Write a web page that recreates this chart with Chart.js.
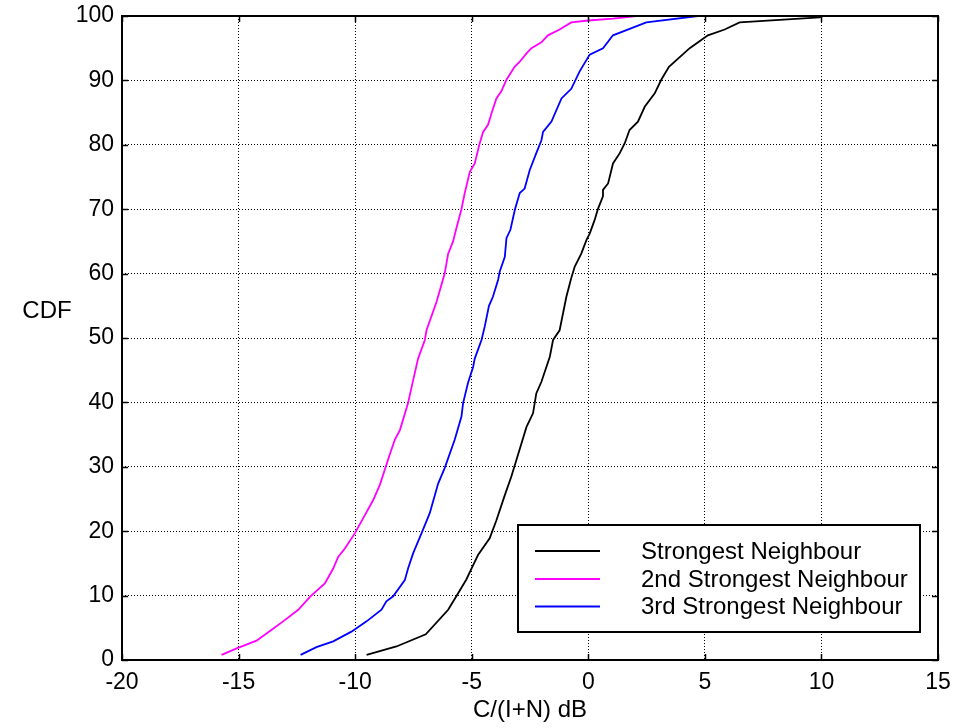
<!DOCTYPE html>
<html>
<head>
<meta charset="utf-8">
<script src="https://cdn.jsdelivr.net/npm/chart.js@4.4.1/dist/chart.umd.min.js"></script>
<style>
html,body{margin:0;padding:0;background:#fff;}
#wrap{width:957px;height:728px;}
</style>
</head>
<body>
<div id="wrap"><canvas id="c" width="957" height="728"></canvas></div>
<script>
// ---- data ----
const seriesNames = ["Strongest Neighbour", "2nd Strongest Neighbour", "3rd Strongest Neighbour"];
const seriesColors = ["#000000", "#ff00ff", "#0000ff"];

const strongestX = [-9.51,-8.23,-6.97,-6.01,-5.66,-5.23,-5.01,-4.73,-4.23,-3.94,-3.58,-3.30,-3.08,-2.65,-2.37,-2.23,-2.01,-1.65,-1.51,-1.23,-0.94,-0.73,-0.58,-0.30,-0.08,0.06,0.27,0.42,0.63,0.63,0.85,1.06,1.35,1.56,1.77,2.13,2.42,2.85,3.13,3.46,4.35,5.13,5.85,6.49,9.92,10.1];
const strongestY = [0.8,2.1,4.0,7.8,9.9,12.5,14.2,16.3,18.9,21.7,25.6,28.5,31.1,36.2,38.3,41.4,43.2,47.1,49.7,51.2,56.4,59.3,61.1,63.1,65.2,66.2,68.3,70.1,72.0,73.0,74.0,77.1,78.7,80.2,82.3,83.6,85.9,88.0,90.1,92.1,95.0,97.0,97.9,99.0,99.8,100];

const second_X = [-15.73,-15.08,-14.23,-13.58,-13.09,-12.44,-11.94,-11.30,-10.94,-10.73,-10.44,-10.01,-9.66,-9.23,-8.94,-8.59,-8.30,-8.08,-7.73,-7.54,-7.30,-7.01,-6.94,-6.51,-6.16,-6.01,-5.80,-5.66,-5.44,-5.30,-5.08,-4.87,-4.66,-4.51,-4.30,-4.15,-3.94,-3.73,-3.51,-3.16,-2.94,-2.65,-2.44,-2.01,-1.73,-1.23,-0.73,0.0,1.06,2.06];
const second_Y = [0.8,1.8,3.0,4.7,6.0,7.8,9.8,11.9,14.2,16.0,17.3,19.7,22.0,24.8,27.2,31.1,34.2,35.7,39.9,43.0,46.8,49.7,51.2,55.6,60.0,63.1,65.0,67.0,70.0,72.5,75.8,77.1,80.2,82.0,83.1,84.9,87.2,88.3,90.1,92.1,92.9,94.2,95.0,95.9,97.0,97.9,99.0,99.3,99.6,100];

const third_X = [-12.34,-11.66,-10.94,-10.16,-9.51,-8.87,-8.66,-8.37,-7.87,-7.73,-7.51,-7.15,-6.80,-6.44,-6.16,-5.73,-5.44,-5.37,-5.16,-4.94,-4.87,-4.58,-4.44,-4.26,-4.09,-3.87,-3.80,-3.58,-3.51,-3.34,-3.15,-2.94,-2.73,-2.51,-2.23,-2.01,-1.94,-1.58,-1.15,-0.73,-0.37,0.06,0.63,1.06,2.49,4.70];
const third_Y = [0.8,2.0,2.9,4.4,6.0,7.8,9.1,9.9,12.4,14.2,16.6,19.7,22.8,27.4,29.8,34.2,37.8,39.9,43.0,45.5,46.8,49.7,51.8,55.0,56.4,59.0,60.3,62.6,65.5,66.8,69.9,72.5,73.2,76.1,78.7,80.7,82.0,83.6,87.2,88.7,91.4,94.0,95.0,97.0,99.0,100];

const xTicks = [-20,-15,-10,-5,0,5,10,15];
const yTicks = [0,10,20,30,40,50,60,70,80,90,100];
const xLabel = "C/(I+N) dB";
const yLabel = "CDF";

// ---- build ----
const FONT = "'Liberation Sans', Arial, Helvetica, sans-serif";
function pts(xs, ys){ return xs.map((x,i)=>({x:x, y:ys[i]})); }
const seriesData = [pts(strongestX,strongestY), pts(second_X,second_Y), pts(third_X,third_Y)];

const frameAndLegend = {
  id: 'frameAndLegend',
  afterDraw(chart){
    const ctx = chart.ctx;
    const a = chart.chartArea;
    const xs = chart.scales.x, ys = chart.scales.y;
    ctx.save();
    // inward tick marks
    ctx.strokeStyle = '#000'; ctx.lineWidth = 1.5; ctx.setLineDash([]);
    const tl = 6;
    xTicks.forEach(v=>{
      const px = Math.round(xs.getPixelForValue(v))+0.5;
      ctx.beginPath(); ctx.moveTo(px, a.bottom); ctx.lineTo(px, a.bottom-tl); ctx.stroke();
      ctx.beginPath(); ctx.moveTo(px, a.top); ctx.lineTo(px, a.top+tl); ctx.stroke();
    });
    yTicks.forEach(v=>{
      const py = Math.round(ys.getPixelForValue(v))+0.5;
      ctx.beginPath(); ctx.moveTo(a.left, py); ctx.lineTo(a.left+tl, py); ctx.stroke();
      ctx.beginPath(); ctx.moveTo(a.right, py); ctx.lineTo(a.right-tl, py); ctx.stroke();
    });
    // frame
    ctx.lineWidth = 2;
    ctx.strokeRect(a.left, a.top, a.right-a.left, a.bottom-a.top);
    // axis labels
    ctx.fillStyle = '#000';
    ctx.font = '24px ' + FONT;
    ctx.textAlign = 'center'; ctx.textBaseline = 'middle';
    ctx.fillText(xLabel, (a.left+a.right)/2, 710);
    ctx.fillText(yLabel, 47, 311);
    // legend
    const lx = 518, ly = 525, lw = 402, lh = 107;
    ctx.fillStyle = '#fff';
    ctx.fillRect(lx, ly, lw, lh);
    ctx.lineWidth = 2; ctx.strokeStyle = '#000';
    ctx.strokeRect(lx, ly, lw, lh);
    const rows = [551, 579, 606.5];
    chart.data.datasets.forEach((ds,i)=>{
      ctx.strokeStyle = ds.borderColor; ctx.lineWidth = 2;
      ctx.beginPath(); ctx.moveTo(535, rows[i]); ctx.lineTo(600, rows[i]); ctx.stroke();
      ctx.fillStyle = '#000'; ctx.textAlign = 'left'; ctx.textBaseline = 'middle';
      ctx.font = '24px ' + FONT;
      ctx.fillText(ds.label, 641, rows[i]+1);
    });
    ctx.restore();
  }
};

new Chart(document.getElementById('c'), {
  type: 'line',
  data: {
    datasets: seriesData.map((d,i)=>({
      label: seriesNames[i],
      data: d,
      borderColor: seriesColors[i],
      backgroundColor: seriesColors[i],
      borderWidth: 1.8,
      pointRadius: 0,
      tension: 0,
      fill: false
    }))
  },
  options: {
    responsive: false,
    devicePixelRatio: 1,
    animation: false,
    layout: { padding: { top: 16, right: 19, bottom: 0, left: 0 } },
    plugins: { legend: { display: false }, tooltip: { enabled: false } },
    scales: {
      x: {
        type: 'linear', min: -20, max: 15,
        afterFit(s){ s.height = 68; },
        afterBuildTicks(s){ s.ticks = xTicks.map(v=>({value:v})); },
        ticks: { color: '#000', font: { family: FONT, size: 23 }, padding: 0, maxRotation: 0 },
        grid: { color: '#000', lineWidth: 1, drawTicks: true, tickLength: 9, tickColor: 'rgba(0,0,0,0)' },
        border: { display: false, dash: [1, 2] }
      },
      y: {
        type: 'linear', min: 0, max: 100,
        afterFit(s){ s.width = 122; },
        afterBuildTicks(s){ s.ticks = yTicks.map(v=>({value:v})); },
        ticks: { color: '#000', font: { family: FONT, size: 23 }, padding: 0 },
        grid: { color: '#000', lineWidth: 1, drawTicks: true, tickLength: 8, tickColor: 'rgba(0,0,0,0)' },
        border: { display: false, dash: [1, 2] }
      }
    }
  },
  plugins: [frameAndLegend]
});
</script>
</body>
</html>
